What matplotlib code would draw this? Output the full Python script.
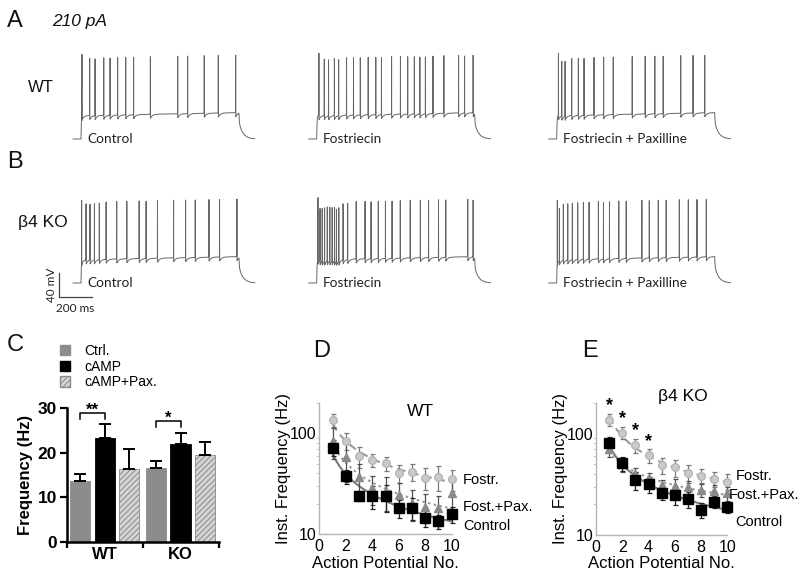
import numpy as np
import matplotlib
matplotlib.use("Agg")
import matplotlib.pyplot as plt
from matplotlib.patches import Patch

# ---------------- data ----------------
# spike times (ms from current-step onset), 1000 ms step of 210 pA
a_ctrl = [6, 55, 89, 144, 184, 232, 283, 333, 439, 612, 675, 780, 869, 979]
a_fost = [14, 48, 75, 112, 139, 189, 233, 276, 326, 374, 410, 474, 530, 576,
          618, 653, 688, 736, 805, 898, 936, 990]
a_fpax = [11, 32, 53, 95, 137, 173, 236, 297, 358, 478, 560, 621, 674, 785, 863, 937]
b_ctrl = [4, 32, 57, 85, 116, 159, 226, 290, 368, 412, 484, 586, 662, 723, 810, 877, 987]
b_fost = [8, 21, 35, 50, 67, 83, 98, 113, 125, 140, 167, 196, 250, 306, 344, 390,
          435, 477, 529, 592, 656, 708, 771, 817, 956, 990]
b_fpax = [4, 17, 42, 70, 99, 133, 169, 205, 264, 296, 334, 393, 440, 539, 586, 643,
          693, 776, 833, 888, 947]
trace_labels = ["Control", "Fostriecin", "Fostriecin + Paxilline"]

# panel C
groups = ["WT", "KO"]
conds = ["Ctrl.", "cAMP", "cAMP+Pax."]
freq_mean = {"Ctrl.": [13.7, 16.6], "cAMP": [23.3, 21.9], "cAMP+Pax.": [16.4, 19.6]}
freq_sem = {"Ctrl.": [1.5, 1.5], "cAMP": [3.2, 2.5], "cAMP+Pax.": [4.5, 2.9]}

# panels D/E
ap_no = [1, 2, 3, 4, 5, 6, 7, 8, 9, 10]
d_ctrl = [72, 37.8, 24, 24, 23.8, 18.1, 18.4, 14.6, 13.4, 15.8]
d_ctrl_err = [13, 6, 2.7, 6, 7, 3.6, 4.6, 2.8, 2.2, 3]
d_fost = [135, 84, 59.7, 54.5, 50.5, 40.2, 41.7, 36.4, 37, 35]
d_fost_err = [20, 16, 14, 8, 8, 8, 8, 9, 10, 8]
d_fpax = [84, 57.8, 37.2, 28.5, 26.9, 24.5, 20.6, 18.8, 18.1, 25.5]
d_fpax_err = [28, 25, 12, 9, 10, 8, 7, 6, 6, 10]
e_ctrl = [81.5, 50.7, 34.8, 31.7, 26.1, 24.7, 22.6, 17.6, 21.3, 18.8]
e_ctrl_err = [12, 8, 7, 6, 4, 5, 4, 3, 3, 2.5]
e_fost = [137, 102, 76.7, 61.2, 48.8, 46.3, 40.5, 38.4, 35.6, 33.5]
e_fost_err = [18, 14, 12, 10, 9, 9, 8, 6, 6, 6]
e_fpax = [71, 49.9, 39.5, 36.1, 31, 30.3, 29.4, 27.7, 27.3, 25.7]
e_fpax_err = [12, 8, 6, 5, 4, 5, 5, 4, 4, 4]
e_star_x = [1, 2, 3, 4]
e_star_y = [190, 141, 107, 83]

# ---------------- helpers ----------------
W, H = 800, 576
fig = plt.figure(figsize=(8, 5.76), dpi=100)
plt.rcParams['font.family'] = ['Liberation Sans', 'DejaVu Sans']
TRACE_FONT = ['Lato', 'DejaVu Sans']


def px_axes(left, top, right, bottom):
    return fig.add_axes([left / W, 1 - bottom / H, (right - left) / W, (bottom - top) / H])


def ftext(x, y, s, **kw):
    fig.text(x / W, 1 - y / H, s, **kw)


def make_trace(spikes):
    t = np.arange(-50, 1100, 0.25)
    v = np.full_like(t, -75.0)
    on = (t >= 0) & (t < 1000)
    plat = -36 + 5 * (t / 1000)
    v[on] = -75 + (plat[on] + 75) * (1 - np.exp(-t[on] / 2))
    prev = None
    for i, ts in enumerate(spikes):
        ahp = np.where((t > ts) & on, -7 * np.exp(-(t - ts) / 12), 0)
        v = v + ahp
        isi = 1e9 if prev is None else ts - prev
        peak = 70 if i == 0 else 62 - 25 * np.exp(-isi / 12)
        base = -34
        tri = np.clip(1 - np.abs(t - ts) / 0.6, 0, None)
        v = v + tri * (peak - base)
        prev = ts
    off = t >= 1000
    vend = v[np.searchsorted(t, 999.75)]
    v[off] = -75 + (vend + 75) * (0.35 * np.exp(-(t[off] - 1000) / 2)
                                  + 0.65 * np.exp(-(t[off] - 1000) / 25))
    return t, v


# ---------------- traces ----------------
rows = [(a_ctrl, a_fost, a_fpax), (b_ctrl, b_fost, b_fpax)]
row_base = [139, 283]            # px of resting baseline
col_step = [81, 316.7, 556.7]    # px of step onset
pxms = 0.158
pxmv = 0.6
for r, spk_row in enumerate(rows):
    for c, spk in enumerate(spk_row):
        left = col_step[c] - 60 * pxms
        right = col_step[c] + 1130 * pxms
        top = row_base[r] - 150 * pxmv
        bottom = row_base[r] + 10 * pxmv
        ax = px_axes(left, top, right, bottom)
        t, v = make_trace(spk)
        ax.plot(t, v, color='#666666', lw=0.7)
        ax.set_xlim(-60, 1130)
        ax.set_ylim(-85, 75)
        ax.axis('off')
        ax.text(40, -75, trace_labels[c], fontsize=9.8, family=TRACE_FONT,
                color='#222222', va='center', ha='left')

# scale bars
ax_sb = px_axes(0, 0, W, H)
ax_sb.set_xlim(0, W)
ax_sb.set_ylim(H, 0)
ax_sb.axis('off')
ax_sb.plot([59.3, 59.3, 92], [273, 297, 297], color='#444444', lw=0.9)
ftext(51.5, 285, "40 mV", rotation=90, fontsize=8.5, family=TRACE_FONT,
      ha='center', va='center', color='#222222')
ftext(56, 308, "200 ms", fontsize=8.5, family=TRACE_FONT, ha='left',
      va='center', color='#222222')

ftext(7, 27, "A", fontsize=17, color='#111111')
ftext(7, 168, "B", fontsize=17, color='#111111')
ftext(52, 26, "210 pA", fontsize=12.5, style='italic', color='#111111')
ftext(28, 92, "WT", fontsize=12, color='#111111')
ftext(18, 227, "β4 KO", fontsize=12.5, color='#111111')

# ---------------- panel C ----------------
ftext(7, 351, "C", fontsize=17, color='#111111')
axc = px_axes(66.7, 408.3, 218.5, 541.7)
offs = [-0.32, 0.0, 0.32]
bw = 0.265
styles = {
    "Ctrl.": dict(facecolor='#8c8c8c', edgecolor='#8c8c8c'),
    "cAMP": dict(facecolor='black', edgecolor='black'),
    "cAMP+Pax.": dict(facecolor='#d4d4d4', edgecolor='#8a8a8a', hatch='//////'),
}
plt.rcParams['hatch.color'] = '#8a8a8a'
plt.rcParams['hatch.linewidth'] = 0.7
xg = np.arange(len(groups))
handles = []
for k, cnd in enumerate(conds):
    xs = xg + offs[k]
    axc.bar(xs, freq_mean[cnd], width=bw, linewidth=0.6, **styles[cnd], zorder=2)
    axc.errorbar(xs, freq_mean[cnd], yerr=[np.zeros(2), freq_sem[cnd]], fmt='none',
                 ecolor='black', elinewidth=1.4, capsize=4.5, capthick=1.4, zorder=3)
    handles.append(Patch(label=cnd, **styles[cnd]))
axc.set_xlim(-0.5, 1.5)
axc.set_ylim(0, 30)
axc.set_yticks([0, 10, 20, 30])
axc.set_yticklabels(["0", "10", "20", "30"], fontsize=12.5, fontweight='bold')
axc.set_xticks([-0.5, 0.5, 1.5])
axc.set_xticklabels([])
axc.set_xticks(xg, minor=True)
axc.set_xticklabels(groups, minor=True, fontsize=12, fontweight='bold')
axc.tick_params(axis='x', which='minor', length=0, pad=4)
axc.tick_params(axis='x', which='major', length=4, width=1.6)
axc.tick_params(axis='y', length=5, width=1.6, pad=2)
for s in ['top', 'right']:
    axc.spines[s].set_visible(False)
for s in ['left', 'bottom']:
    axc.spines[s].set_linewidth(1.8)
axc.set_ylabel("Frequency (Hz)", fontsize=12, fontweight='bold', labelpad=3)
# significance brackets
for g, (yb, yl, lab) in enumerate([(29.0, 27.6, "**"), (27.2, 25.9, "*")]):
    x0, x1 = xg[g] + offs[0], xg[g] + offs[1]
    axc.plot([x0, x0, x1, x1], [yl, yb, yb, yl], color='black', lw=1.1, clip_on=False)
    axc.text((x0 + x1) / 2, yb + 0.6, lab, ha='center', va='center', fontsize=12,
             fontweight='bold', clip_on=False)
fig.legend(handles=handles, loc='upper left', bbox_to_anchor=(60 / W, 1 - 344 / H),
           frameon=False, fontsize=10, handlelength=0.75, handleheight=0.75,
           handletextpad=1.0, labelspacing=0.12, borderaxespad=0, borderpad=0)


# ---------------- panels D/E ----------------
def freq_panel(box, ctrl, ctrl_e, fost, fost_e, fpax, fpax_e, title, title_xy, lbls):
    ax = px_axes(*box)
    ax.set_yscale('log')
    x = np.array(ap_no, dtype=float)
    xf = np.linspace(1, 10, 100)
    series = [
        (fost, fost_e, 'o', '#cacaca', '#b5b5b5', '#7a7a7a', (0, (4, 2.5)), '#9a9a9a', 5.5),
        (fpax, fpax_e, '^', '#8a8a8a', '#8a8a8a', '#505050', (0, (1.2, 1.6)), '#9a9a9a', 5.5),
        (ctrl, ctrl_e, 's', 'black', 'black', '#222222', '-', '#7a7a7a', 6.5),
    ]
    for y, e, m, fc, ec, erc, ls, lc, ms in series:
        y = np.array(y, dtype=float)
        p = np.polyfit(np.log(x), np.log(y), 1)
        ax.plot(xf, np.exp(np.polyval(p, np.log(xf))), ls=ls, color=lc, lw=1.5, zorder=2)
        ax.errorbar(x, y, yerr=e, fmt='none', ecolor=erc, elinewidth=0.9, capsize=1.8,
                    capthick=0.9, zorder=3, clip_on=False)
        ax.plot(x, y, m, ms=ms, mfc=fc, mec=ec, zorder=4, clip_on=False, lw=0)
    ax.set_xlim(0, 10)
    ax.set_ylim(10, 200)
    ax.set_xticks([0, 2, 4, 6, 8, 10])
    ax.set_xticklabels(["0", "2", "4", "6", "8", "10"], fontsize=11.5)
    ax.set_yticks([10, 100])
    ax.set_yticklabels(["10", "100"], fontsize=11.5)
    ax.tick_params(axis='x', length=0, pad=3.5)
    ax.tick_params(axis='y', which='major', length=0, pad=2)
    ax.tick_params(axis='y', which='minor', length=2, color='#bbbbbb', labelleft=False)
    for s in ['top', 'right']:
        ax.spines[s].set_visible(False)
    for s in ['left', 'bottom']:
        ax.spines[s].set_color('#b5b5b5')
        ax.spines[s].set_linewidth(1.0)
    ax.set_xlabel("Action Potential No.", fontsize=12, labelpad=1)
    ax.set_ylabel("Inst. Frequency (Hz)", fontsize=12, labelpad=-1)
    ftext(title_xy[0], title_xy[1], title, ha='center', va='center', fontsize=12.5)
    for (xx, yy, s) in lbls:
        ftext(xx, yy, s, fontsize=10.5, ha='left', va='center')
    return ax


ftext(313, 357, "D", fontsize=17, color='#111111')
ftext(582, 357, "E", fontsize=17, color='#111111')
freq_panel((319.3, 402.9, 451.7, 534.3), d_ctrl, d_ctrl_err, d_fost, d_fost_err,
           d_fpax, d_fpax_err, "WT", (420, 412),
           [(463, 480, "Fostr."), (463, 507, "Fost.+Pax."), (463, 526, "Control")])
axe = freq_panel((596, 403, 727.3, 535), e_ctrl, e_ctrl_err, e_fost, e_fost_err,
                 e_fpax, e_fpax_err, "β4 KO", (683, 397),
                 [(736, 476, "Fostr."), (729, 495, "Fost.+Pax."), (735, 522, "Control")])
for sx, sy in zip(e_star_x, e_star_y):
    axe.text(sx, sy, "*", ha='center', va='center', fontsize=13, fontweight='bold',
             clip_on=False)

fig.savefig("out.png", dpi=100)
